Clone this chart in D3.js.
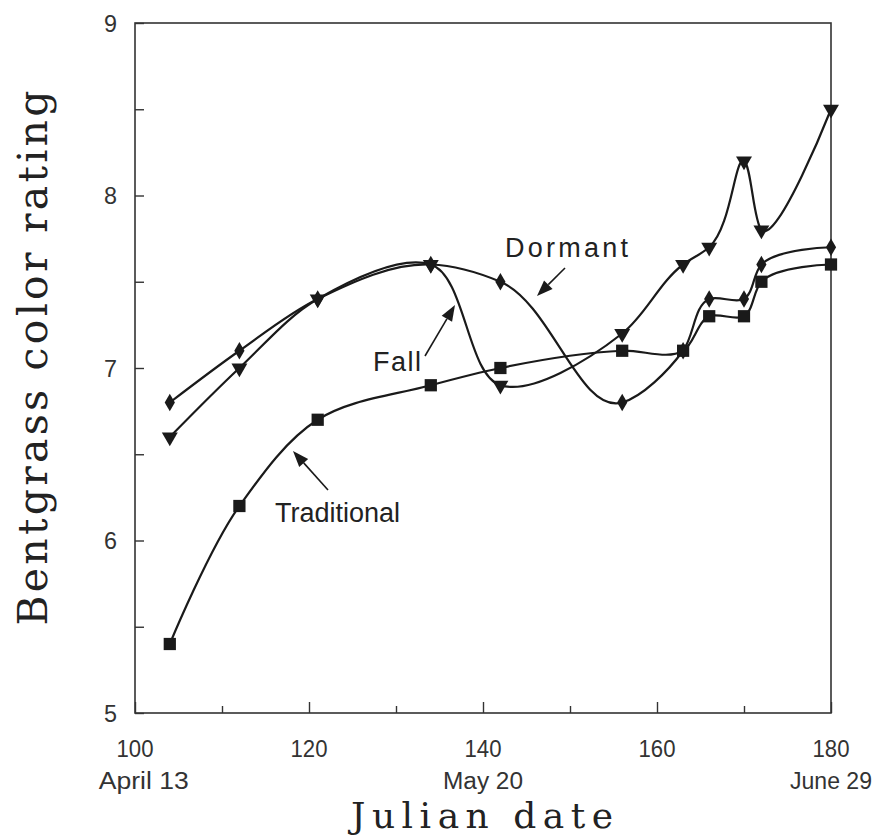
<!DOCTYPE html>
<html>
<head>
<meta charset="utf-8">
<script src="https://cdn.jsdelivr.net/npm/d3@7/dist/d3.min.js"></script>
<style>
  html, body { margin: 0; padding: 0; background: #fff; }
  svg { display: block; }
</style>
</head>
<body>
<svg id="chart" width="878" height="840"></svg>
<script>
// ---- data ----
const days = [104, 112, 121, 134, 142, 156, 163, 166, 170, 172, 180];
const traditional = [5.4, 6.2, 6.7, 6.9, 7.0, 7.1, 7.1, 7.3, 7.3, 7.5, 7.6];
const dormant     = [6.8, 7.1, 7.4, 7.6, 7.5, 6.8, 7.1, 7.4, 7.4, 7.6, 7.7];
const fall        = [6.6, 7.0, 7.4, 7.6, 6.9, 7.2, 7.6, 7.7, 8.2, 7.8, 8.5];
const xTicks = [100, 120, 140, 160, 180];
const xMinorTicks = [110, 130, 150, 170];
const yTicks = [5, 6, 7, 8, 9];
const yMinorTicks = [5.5, 6.5, 7.5, 8.5];
const dateLabels = ["April 13", "May 20", "June 29"];
const dateLabelDays = [101, 140, 180];
const seriesNames = ["Traditional", "Dormant", "Fall"];

// ---- layout ----
const svg = d3.select("#chart");
const L = 135, R = 831, T = 23, B = 713;
const x = d3.scaleLinear().domain([100, 180]).range([L, R]);
const y = d3.scaleLinear().domain([5, 9]).range([B, T]);
const ink = "#1a1a1a";
const sans = "Liberation Sans, Arial, sans-serif";
const serif = "DejaVu Serif, serif";

// frame
svg.append("rect").attr("x", L).attr("y", T).attr("width", R - L).attr("height", B - T)
  .attr("fill", "none").attr("stroke", "#333").attr("stroke-width", 1.6);

// y axis ticks (inward)
[yTicks, yMinorTicks].forEach(tv => {
  svg.append("g").attr("transform", `translate(${L},0)`)
    .call(d3.axisRight(y).tickValues(tv).tickSize(9).tickFormat(""))
    .call(g => g.select(".domain").remove())
    .call(g => g.selectAll("line").attr("stroke", "#333").attr("stroke-width", 1.4));
});
svg.append("g").selectAll("text").data(yTicks).join("text")
  .attr("x", L - 18).attr("y", d => y(d)).attr("dy", "0.36em")
  .attr("text-anchor", "end")
  .attr("font-family", sans).attr("font-size", 24)
  .attr("fill", "#333").attr("textLength", 13).attr("lengthAdjust", "spacingAndGlyphs").text(d => d);

// x ticks (inward)
svg.append("g").attr("transform", `translate(0,${B})`)
  .call(d3.axisTop(x).tickValues(xTicks).tickSize(11).tickFormat(""))
  .call(g => g.select(".domain").remove())
  .call(g => g.selectAll("line").attr("stroke", "#333").attr("stroke-width", 1.4));
svg.append("g").attr("transform", `translate(0,${B})`)
  .call(d3.axisTop(x).tickValues(xMinorTicks).tickSize(7).tickFormat(""))
  .call(g => g.select(".domain").remove())
  .call(g => g.selectAll("line").attr("stroke", "#333").attr("stroke-width", 1.4));
svg.append("g").selectAll("text").data(xTicks).join("text")
  .attr("x", d => x(d)).attr("y", 757)
  .attr("text-anchor", "middle")
  .attr("font-family", sans).attr("font-size", 24)
  .attr("fill", "#333").attr("textLength", 37).attr("lengthAdjust", "spacingAndGlyphs").text(d => d);
const dateW = [90, 80, 82];
svg.append("g").selectAll("text").data(dateLabels).join("text")
  .attr("x", (d, i) => x(dateLabelDays[i])).attr("y", 789)
  .attr("text-anchor", "middle")
  .attr("font-family", sans).attr("font-size", 23)
  .attr("fill", "#333").attr("textLength", (d, i) => dateW[i]).attr("lengthAdjust", "spacingAndGlyphs")
  .style("white-space", "pre").text(d => d);

// axis titles
svg.append("text").attr("x", 482).attr("y", 828).attr("text-anchor", "middle")
  .attr("font-family", serif).attr("font-size", 36)
  .attr("fill", "#222").attr("textLength", 262).attr("lengthAdjust", "spacing")
  .text("Julian date");
svg.append("text").attr("transform", "translate(47,358) rotate(-90)").attr("text-anchor", "middle")
  .attr("font-family", serif).attr("font-size", 41)
  .attr("fill", "#222").attr("textLength", 535).attr("lengthAdjust", "spacing")
  .text("Bentgrass color rating");

// ---- series ----
const line = d3.line().x(d => x(d[0])).y(d => y(d[1])).curve(d3.curveCatmullRom.alpha(1));
const allSeries = [traditional, dormant, fall];
const g = svg.append("g");
allSeries.forEach(vals => {
  const pts = days.map((d, i) => [d, vals[i]]);
  g.append("path").attr("d", line(pts)).attr("fill", "none")
    .attr("stroke", ink).attr("stroke-width", 2.2);
});

const sym = [d3.symbolSquare, d3.symbolDiamond, d3.symbolTriangle];
const sizes = [150, 90, 110];
allSeries.forEach((vals, s) => {
  g.append("g").selectAll("path").data(days).join("path")
    .attr("transform", (d, i) => `translate(${x(d)},${y(vals[i])})` + (s === 2 ? " rotate(180)" : ""))
    .attr("d", d3.symbol().type(sym[s]).size(sizes[s]))
    .attr("fill", ink);
});

// ---- annotations ----
function arrow(x1, y1, x2, y2) {
  const ang = Math.atan2(y2 - y1, x2 - x1);
  const hl = 16, hw = 6;
  const bx = x2 - hl * Math.cos(ang), by = y2 - hl * Math.sin(ang);
  svg.append("line").attr("x1", x1).attr("y1", y1).attr("x2", bx).attr("y2", by)
    .attr("stroke", ink).attr("stroke-width", 1.6);
  const px = -Math.sin(ang) * hw, py = Math.cos(ang) * hw;
  svg.append("path").attr("d", `M${x2},${y2}L${bx + px},${by + py}L${bx - px},${by - py}Z`).attr("fill", ink);
}
const annot = svg.append("g").attr("font-family", sans)
  .attr("font-size", 27).attr("fill", "#222");
annot.append("text").attr("x", 505).attr("y", 257).attr("textLength", 123).attr("lengthAdjust", "spacing").text(seriesNames[1]);
arrow(565, 268, 537, 296);
annot.append("text").attr("x", 373).attr("y", 371).attr("textLength", 48).attr("lengthAdjust", "spacing").text(seriesNames[2]);
arrow(425, 356, 455, 305);
annot.append("text").attr("x", 275).attr("y", 522).attr("textLength", 125).attr("lengthAdjust", "spacing").text(seriesNames[0]);
arrow(328, 490, 293, 451);
</script>
</body>
</html>
